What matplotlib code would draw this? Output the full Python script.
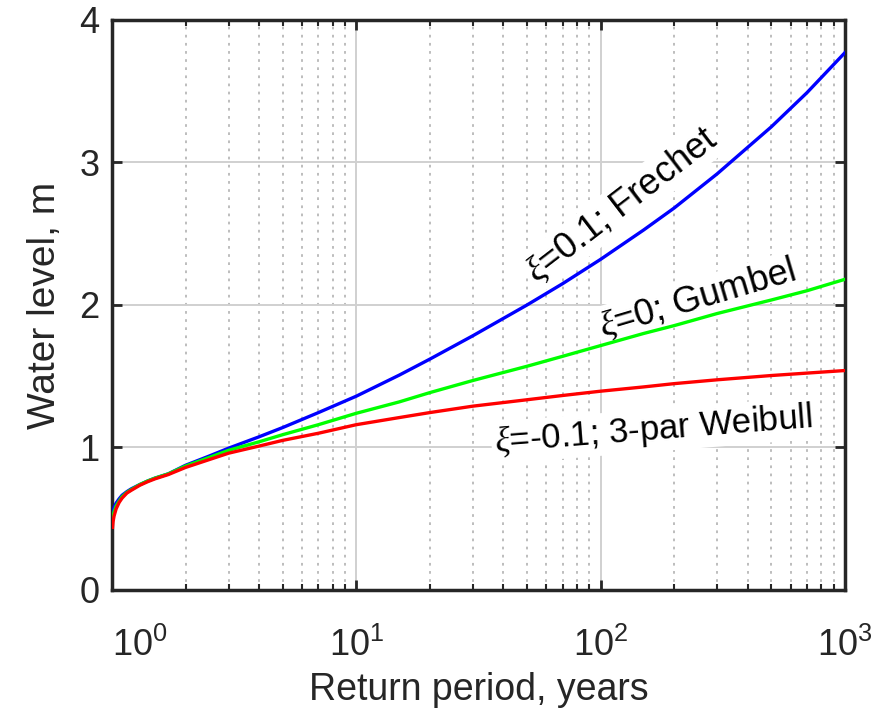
import matplotlib
matplotlib.use("Agg")

import matplotlib.pyplot as plt
from matplotlib.ticker import LogLocator, FixedLocator, NullFormatter

plt.rcParams['font.family'] = ['Liberation Sans', 'DejaVu Sans']
plt.rcParams['mathtext.fontset'] = 'custom'
plt.rcParams['mathtext.rm'] = 'Liberation Sans'
plt.rcParams['mathtext.it'] = 'Liberation Serif:italic'
plt.rcParams['mathtext.default'] = 'regular'

# return period (years) and water level (m)
return_period = [1.005, 1.01, 1.02, 1.04, 1.07, 1.1, 1.15, 1.2, 1.3, 1.4, 1.5, 1.7,
                 2, 2.5, 3, 4, 5, 7, 10, 15, 20, 30, 50, 70, 100, 150, 200, 300,
                 500, 700, 1000]
level_frechet = [0.53, 0.555, 0.58, 0.61, 0.64, 0.665, 0.69, 0.71, 0.74, 0.765, 0.785, 0.815,
                 0.875, 0.94, 0.995, 1.075, 1.14, 1.245, 1.36, 1.508, 1.62, 1.784, 2.00, 2.15,
                 2.32, 2.526, 2.68, 2.92, 3.25, 3.49, 3.77]
level_gumbel = [0.49, 0.52, 0.55, 0.59, 0.625, 0.655, 0.685, 0.705, 0.74, 0.765, 0.785, 0.815,
                0.87, 0.93, 0.98, 1.04, 1.09, 1.16, 1.24, 1.32, 1.385, 1.47, 1.57, 1.64,
                1.715, 1.80, 1.855, 1.94, 2.035, 2.10, 2.18]
level_weibull = [0.44, 0.48, 0.52, 0.57, 0.615, 0.645, 0.68, 0.70, 0.735, 0.76, 0.78, 0.81,
                 0.86, 0.915, 0.96, 1.01, 1.05, 1.10, 1.16, 1.21, 1.245, 1.29, 1.335, 1.365,
                 1.395, 1.425, 1.448, 1.475, 1.505, 1.522, 1.54]

fig = plt.figure(figsize=(8.84, 7.21), dpi=100)
ax = fig.add_axes([0.1267, 0.1817, 0.829, 0.7906])

ax.plot(return_period, level_frechet, color=(0, 0, 1), lw=2.4, zorder=4)
ax.plot(return_period, level_gumbel, color=(0, 1, 0), lw=2.4, zorder=4)
ax.plot(return_period, level_weibull, color=(1, 0, 0), lw=2.4, zorder=4)

ax.set_xscale('log')
ax.set_xlim(1, 1000)
ax.set_ylim(0, 4)
ax.set_yticks([0, 1, 2, 3, 4])
ax.xaxis.set_major_locator(FixedLocator([1, 10, 100, 1000]))
ax.set_xticklabels(['$10^{0}$', '$10^{1}$', '$10^{2}$', '$10^{3}$'])
ax.get_xticklabels()[0].set_ha('left')
ax.xaxis.set_minor_locator(LogLocator(base=10, subs=range(2, 10)))
ax.xaxis.set_minor_formatter(NullFormatter())

ax.grid(True, which='major', color='#d0d0d0', lw=1.4, ls='-', zorder=0)
ax.grid(True, which='minor', axis='x', color='#b8b8b8', lw=1.3, ls=(0, (1.5, 3)), zorder=0)
ax.set_axisbelow(True)

ax.tick_params(which='both', direction='in', top=True, right=True, colors='#262626',
               labelsize=26)
ax.tick_params(axis='y', pad=9)
ax.tick_params(axis='x', pad=27)
ax.tick_params(which='major', length=7, width=2)
ax.tick_params(which='minor', length=4, width=1.5)
for s in ax.spines.values():
    s.set_linewidth(2.5)
    s.set_color('#262626')

ax.set_xlabel('Return period, years', fontsize=27, color='#262626', labelpad=6)
ax.set_ylabel('Water level, m', fontsize=28, color='#262626', labelpad=12)

box = dict(facecolor='white', edgecolor='none', pad=2)
ax.text(122, 2.70, r'$\mathit{\xi}$=0.1; Frechet', fontsize=26, rotation=37.5,
        ha='center', va='center', bbox=box, zorder=3)
ax.text(248, 2.04, r'$\mathit{\xi}$=0; Gumbel', fontsize=26, rotation=16.5,
        ha='center', va='center', bbox=box, zorder=3)
ax.text(164, 1.12, r'$\mathit{\xi}$=-0.1; 3-par Weibull', fontsize=25, rotation=4.5,
        ha='center', va='center', bbox=box, zorder=3)

fig.savefig('out.png', dpi=100)
